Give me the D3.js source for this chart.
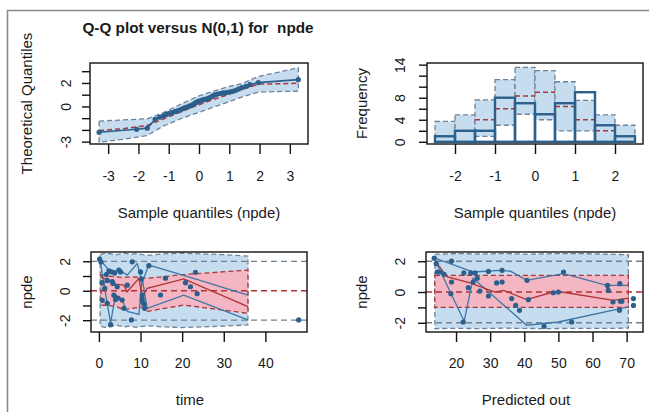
<!DOCTYPE html>
<html><head><meta charset="utf-8">
<script src="https://cdn.jsdelivr.net/npm/d3@7"></script>
<style>body{margin:0;background:#fff}svg{display:block}text{font-family:"Liberation Sans",Arial,sans-serif;fill:#1a1a1a}</style>
</head><body>
<script>
// ---------- DATA ----------
// Panel 1: Q-Q plot (sample quantile, theoretical quantile)
const qqSample = [-3.30,-2.06,-1.71,-1.45,-1.30,-1.18,-1.08,-0.98,-0.90,-0.80,-0.72,-0.62,-0.55,-0.48,-0.40,-0.32,-0.25,-0.18,-0.12,-0.06,0.00,0.08,0.15,0.22,0.30,0.38,0.45,0.52,0.60,0.70,0.80,0.90,1.00,1.10,1.20,1.30,1.41,1.55,1.68,1.96,3.28];
const qqTheo   = [-2.20,-1.95,-1.85,-1.10,-0.92,-0.80,-0.68,-0.58,-0.52,-0.45,-0.38,-0.30,-0.20,-0.12,-0.05,0.02,0.10,0.20,0.30,0.38,0.45,0.52,0.58,0.62,0.68,0.78,0.88,0.98,1.05,1.10,1.15,1.18,1.22,1.28,1.35,1.48,1.60,1.72,1.85,2.03,2.28];
const qqBandX   = [-3.30,-2.50,-1.71,-1.20,-0.60,0.00,0.60,1.00,1.41,1.96,2.60,3.28];
const qqBandLo  = [-3.05,-2.80,-2.48,-1.70,-1.05,-0.50,0.05,0.40,0.80,1.22,1.27,1.30];
const qqBandHi  = [-1.25,-1.15,-1.05,-0.55,0.20,0.90,1.40,1.70,1.94,2.56,2.90,3.30];
const qqBandMed = [-2.05,-1.90,-1.62,-1.10,-0.45,0.15,0.70,1.05,1.45,1.90,1.93,1.97];
const qqTicksY = [-3,-2,-1,0,1,2,3], qqLabelsY = ["-3","","","0","","2",""];
const qqTicksX = [-3,-2,-1,0,1,2,3];

// Panel 2: histogram
const binEdges = [-2.5,-2,-1.5,-1,-0.5,0,0.5,1,1.5,2,2.5];
const obsCounts = [1,2,2,8,7,5,7,9,3,1];
const simLow  = [0,0,1,3,5,4,2,2,0,0];
const simMed  = [1,2,4,6,8.3,9,6.4,4,2,1];
const simHigh = [3.7,4.9,7.6,11.3,13.5,12.9,10.9,7.5,4.9,3.0];
const histTicksX = [-2,-1,0,1,2];
const histTicksY = [0,2,4,6,8,10,12,14], histLabelsY = ["0","","4","","8","","","14"];

// Panel 3: npde vs time
const timeObs = [0.17,0.5,0.8,0.8,1.4,1.8,2.0,2.0,2.4,2.8,3.0,3.2,3.4,3.6,3.8,4.0,4.4,4.6,4.8,5.2,5.6,6.0,6.8,7.8,8.0,10.0,10.2,10.4,10.4,10.5,10.8,11.0,12.0,14.8,16.0,20.8,22.0,23.2,23.6,48.0];
const npdeTime = [2.14,1.95,0.55,-0.65,0.16,1.1,-0.85,0.7,1.35,-2.3,1.28,0.62,0.5,-0.3,1.2,-0.6,0.27,-0.5,1.4,1.28,-0.63,-1.19,0.38,-1.98,1.96,1.28,0.8,-0.29,-0.55,-0.75,-0.9,-1.19,1.7,-0.29,0.85,0.55,0.27,1.25,-0.2,-1.98];
const tBandX  = [0.3,1.5,3,4.5,6,7.5,9,10.5,12,15,20,25,30,35.8];
const tBandLo = [-2.40,-2.50,-2.42,-2.35,-2.45,-2.40,-2.48,-2.42,-2.38,-2.45,-2.50,-2.45,-2.40,-2.32];
const tBandHi = [2.45,2.55,2.50,2.45,2.55,2.48,2.52,2.45,2.40,2.50,2.55,2.50,2.45,2.35];
const tPinkX  = [0.5,2,4,6,8,10,11.6,20.4,35.8];
const tPinkLo = [-0.97,-1.0,-1.05,-1.3,-1.2,-1.1,-1.4,-0.97,-1.53];
const tPinkHi = [1.1,1.0,0.95,0.9,0.95,0.9,0.84,1.1,1.4];
const tUpX = [0.3,2.4,4.0,5.5,6.8,9.2,10.4,12.0,20.4,35.8];
const tUpY = [2.1,1.4,1.35,1.3,1.06,1.85,0.6,1.74,1.05,-0.3];
const tLoX = [0.3,2.8,4.0,5.5,6.8,9.6,10.4,11.6,20.4,35.8];
const tLoY = [2.0,-2.2,-0.3,-0.6,-1.4,-1.6,0.84,-1.2,-0.3,-1.98];
const tMdX = [0.5,2.5,4.0,6.0,6.8,9.6,10.4,11.6,20.4,35.8];
const tMdY = [0.95,0.65,0.45,0.38,-0.07,0.84,-0.4,0.16,0.8,-1.08];
const timeTicksX = [0,10,20,30,40];
const npdeTicksY = [-2,-1,0,1,2], npdeLabelsY = ["-2","","0","","2"];

// Panel 4: npde vs predicted
const predObs = [13.6,14.2,14.5,15.3,16.5,18.7,18.7,18.5,22.1,22.3,23.6,24.3,25.0,25.6,26.2,27.0,29.5,29.5,31.9,33.5,33.5,36.3,37.5,38.6,41.2,40.8,45.8,48.5,50.0,51.5,53.9,64.4,64.6,66.0,67.9,68.0,68.2,68.6,72.0,72.0];
const npdePred = [2.2,1.84,1.3,1.3,1.15,2.01,0.65,-0.11,-1.95,1.24,0.28,1.24,0.65,1.24,0.9,0.06,1.34,-0.26,0.59,0.65,1.41,-0.43,-0.87,-1.19,-0.5,0.76,-2.23,-0.05,0.0,1.3,-1.95,0.43,0.1,-0.65,-1.19,0.54,-0.6,-0.6,-0.43,-0.87];
const pBandX  = [13.8,20,27,34,41,48,55,62,70.5];
const pBandLo = [-2.38,-2.36,-2.38,-2.35,-2.37,-2.38,-2.36,-2.37,-2.35];
const pBandHi = [2.45,2.50,2.47,2.50,2.46,2.49,2.50,2.47,2.42];
const pPinkX  = [13.8,70.5];
const pPinkLo = [-1.0,-1.0];
const pPinkHi = [1.08,1.08];
const pUpX = [13.8,25.1,32.9,36,40.7,51.5,64.2,70.5];
const pUpY = [2.2,1.3,1.41,1.35,0.76,1.19,0.43,0.43];
const pLoX = [13.8,22.4,25.0,40.7,50.0,70.5];
const pLoY = [2.1,-1.9,0.9,-2.16,-1.95,-0.97];
const pMdX = [13.8,17.3,24.1,31.4,34.0,40.7,48.5,51.0,66.1,70.5];
const pMdY = [2.05,1.0,0.6,0.0,0.1,-0.49,0.0,0.0,-0.54,-0.4];
const predTicksX = [20,30,40,50,60,70];

// ---------- STYLE ----------
const C = {lightBlue:"#c6ddf0", pink:"#f4b6c2", dark:"#2b5f8c", line:"#3f77a7",
           red:"#ad3535", gray:"#6f8194", box:"#111"};
const TICK_FS = 14, TITLE_FS = 15;

const svg = d3.select("body").append("svg").attr("width",649).attr("height",412);
svg.append("path").attr("d","M7.5,412 V10.5 H649").attr("fill","none").attr("stroke","#8a8a8a").attr("stroke-width",1.6);

let clipId = 0;
function panel(b, xd, yd){
  const x = d3.scaleLinear().domain(xd).range([b.x0,b.x1]);
  const y = d3.scaleLinear().domain(yd).range([b.y1,b.y0]);
  const id = "clip"+(clipId++);
  svg.append("clipPath").attr("id",id).append("rect").attr("x",b.x0).attr("y",b.y0).attr("width",b.x1-b.x0).attr("height",b.y1-b.y0);
  const g = svg.append("g").attr("clip-path",`url(#${id})`);
  return {x,y,g,b};
}
function frame(p, xt, xl, yt, yl, xtitle, ytitle, xtY, ytX, xtitleX, xtitleY, ytitleX){
  const {x,y,b} = p;
  svg.append("rect").attr("x",b.x0).attr("y",b.y0).attr("width",b.x1-b.x0).attr("height",b.y1-b.y0)
     .attr("fill","none").attr("stroke",C.box).attr("stroke-width",1.4);
  const ax = svg.append("g").attr("transform",`translate(0,${b.y1})`)
     .call(d3.axisBottom(x).tickValues(xt).tickFormat((d,i)=>xl[i]).tickSize(10));
  ax.select(".domain").remove();
  ax.selectAll("line").attr("stroke","#111").attr("stroke-width",1.4);
  ax.selectAll("text").attr("font-size",TICK_FS).attr("fill","#1a1a1a").attr("dy",null)
     .attr("text-anchor","middle").attr("y", xtY-b.y1);
  const ay = svg.append("g").attr("transform",`translate(${b.x0},0)`)
     .call(d3.axisLeft(y).tickValues(yt).tickFormat((d,i)=>yl[i]).tickSize(8));
  ay.select(".domain").remove();
  ay.selectAll("line").attr("stroke","#111").attr("stroke-width",1.4);
  ay.selectAll("text").attr("font-size",TICK_FS).attr("fill","#1a1a1a").attr("x",null).attr("dy",null)
     .attr("text-anchor","middle").attr("transform",`translate(${ytX-b.x0},0) rotate(-90)`);
  svg.append("text").attr("x",xtitleX).attr("y",xtitleY).attr("text-anchor","middle").attr("font-size",TITLE_FS).text(xtitle);
  svg.append("text").attr("transform",`translate(${ytitleX},${(b.y0+b.y1)/2}) rotate(-90)`).attr("text-anchor","middle").attr("font-size",TITLE_FS).text(ytitle);
}
const zip = (a,b)=>a.map((v,i)=>[v,b[i]]);
function bandPoly(p, xs, lo, hi, fill, stroke){
  const pts = zip(xs,hi).concat(zip(xs,lo).reverse()).map(d=>[p.x(d[0]),p.y(d[1])]);
  p.g.append("path").attr("d","M"+pts.join("L")+"Z").attr("fill",fill)
    .attr("stroke",stroke).attr("stroke-width",1.3).attr("stroke-dasharray","5,3");
}
function line(p, xs, ys, color, w, dash){
  const l = d3.line().x(d=>p.x(d[0])).y(d=>p.y(d[1]));
  p.g.append("path").attr("d",l(zip(xs,ys))).attr("fill","none").attr("stroke",color).attr("stroke-width",w)
    .attr("stroke-dasharray",dash||null);
}
function dots(p, xs, ys){
  p.g.selectAll(null).data(zip(xs,ys)).join("circle").attr("cx",d=>p.x(d[0])).attr("cy",d=>p.y(d[1]))
    .attr("r",2.6).attr("fill",C.dark);
}
function hline(p, v, color, w){
  p.g.append("line").attr("x1",p.b.x0).attr("x2",p.b.x1).attr("y1",p.y(v)).attr("y2",p.y(v))
    .attr("stroke",color).attr("stroke-width",w||1.3).attr("stroke-dasharray","6,4");
}

// ---------- PANEL 1 : QQ ----------
const p1 = panel({x0:90,x1:308,y0:63,y1:144},[-3.6,3.6],[-3.2,3.7]);
bandPoly(p1, qqBandX, qqBandLo, qqBandHi, C.lightBlue, C.gray);
line(p1, qqBandX, qqBandMed, C.red, 1.5, "5,3");
line(p1, qqSample, qqTheo, C.dark, 1.6);
dots(p1, qqSample, qqTheo);
frame(p1, qqTicksX, qqTicksX.map(String), qqTicksY, qqLabelsY, "Sample quantiles (npde)", "Theoretical Quantiles", 181, 71, 199, 218, 32);
svg.append("text").attr("x",198).attr("y",33).attr("text-anchor","middle").attr("font-size",15.3).attr("font-weight","bold")
   .style("white-space","pre").text("Q-Q plot versus N(0,1) for  npde");

// ---------- PANEL 2 : histogram ----------
const p2 = panel({x0:427,x1:643,y0:63,y1:144},[-2.7,2.7],[-0.4,14.3]);
obsCounts.forEach((c,i)=>{
  const xa=p2.x(binEdges[i]), xb=p2.x(binEdges[i+1]);
  p2.g.append("rect").attr("x",xa).attr("y",p2.y(simHigh[i])).attr("width",xb-xa).attr("height",p2.y(simLow[i])-p2.y(simHigh[i]))
    .attr("fill",C.lightBlue).attr("stroke",C.gray).attr("stroke-width",1.3).attr("stroke-dasharray","5,3");
});
obsCounts.forEach((c,i)=>{
  const xa=p2.x(binEdges[i]), xb=p2.x(binEdges[i+1]);
  p2.g.append("line").attr("x1",xa).attr("x2",xb).attr("y1",p2.y(simMed[i])).attr("y2",p2.y(simMed[i]))
    .attr("stroke",C.red).attr("stroke-width",1.5).attr("stroke-dasharray","5,3");
});
obsCounts.forEach((c,i)=>{
  const xa=p2.x(binEdges[i]), xb=p2.x(binEdges[i+1]);
  p2.g.append("rect").attr("x",xa).attr("y",p2.y(c)).attr("width",xb-xa).attr("height",p2.y(0)-p2.y(c))
    .attr("fill","none").attr("stroke",C.dark).attr("stroke-width",2.4);
});
frame(p2, histTicksX, histTicksX.map(String), histTicksY, histLabelsY, "Sample quantiles (npde)", "Frequency", 181, 405, 535, 218, 367);

// ---------- PANEL 3 : npde vs time ----------
const p3 = panel({x0:91,x1:307,y0:252,y1:332},[-1.9,50],[-2.8,2.63]);
bandPoly(p3, tBandX, tBandLo, tBandHi, C.lightBlue, C.gray);
bandPoly(p3, tPinkX, tPinkLo, tPinkHi, C.pink, C.red);
hline(p3, 2, C.gray); hline(p3, -2, C.gray); hline(p3, 0, C.red);
line(p3, tUpX, tUpY, C.line, 1.3);
line(p3, tLoX, tLoY, C.line, 1.3);
line(p3, tMdX, tMdY, C.red, 1.3);
dots(p3, timeObs, npdeTime);
frame(p3, timeTicksX, timeTicksX.map(String), npdeTicksY, npdeLabelsY, "time", "npde", 368, 70, 190, 405, 32);

// ---------- PANEL 4 : npde vs predicted ----------
const p4 = panel({x0:426,x1:643,y0:252,y1:332},[11.2,74.8],[-2.6,2.6]);
bandPoly(p4, pBandX, pBandLo, pBandHi, C.lightBlue, C.gray);
bandPoly(p4, pPinkX, pPinkLo, pPinkHi, C.pink, C.red);
hline(p4, 2, C.gray); hline(p4, -2, C.gray); hline(p4, 0, C.red);
line(p4, pUpX, pUpY, C.line, 1.3);
line(p4, pLoX, pLoY, C.line, 1.3);
line(p4, pMdX, pMdY, C.red, 1.3);
dots(p4, predObs, npdePred);
frame(p4, predTicksX, predTicksX.map(String), npdeTicksY, npdeLabelsY, "Predicted out", "npde", 368, 405, 526, 405, 367);
</script>
</body></html>
